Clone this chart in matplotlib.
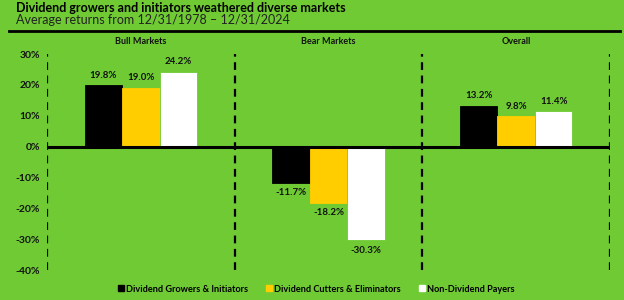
import matplotlib
matplotlib.use("Agg")
import matplotlib.pyplot as plt
from matplotlib.patches import Patch
import numpy as np

categories = ["Bull Markets", "Bear Markets", "Overall"]
series_names = ["Dividend Growers & Initiators", "Dividend Cutters & Eliminators", "Non-Dividend Payers"]
growers = [19.8, -11.7, 13.2]
cutters = [19.0, -18.2, 9.8]
non_payers = [24.2, -30.3, 11.4]
yticks = [30, 20, 10, 0, -10, -20, -30, -40]

BG = "#6fca33"
colors = ["#000000", "#ffcd00", "#ffffff"]
FONT = "Lato"

fig = plt.figure(figsize=(6.24, 3.0), dpi=100, facecolor=BG)
ax = fig.add_axes([47/624, 1-270/300, (610-47)/624, (270-54)/300])
ax.set_facecolor(BG)

x = np.arange(len(categories)) + 0.5
w = 0.2
for i, (vals, c) in enumerate(zip([growers, cutters, non_payers], colors)):
    xs = x + (i - 1) * w
    ax.bar(xs, vals, width=w, color=c, edgecolor=BG if c == "#ffffff" else c, linewidth=0.6, zorder=2)
    for xi, v in zip(xs, vals):
        if v >= 0:
            ax.text(xi, v + 1.8, f"{v:.1f}%", ha="center", va="bottom", fontsize=7,
                    fontfamily=FONT, fontweight="bold", color="#111111")
        else:
            ax.text(xi, v - 1.8, f"{v:.1f}%", ha="center", va="top", fontsize=7,
                    fontfamily=FONT, fontweight="bold", color="#111111")

ax.set_xlim(0, 3)
ax.set_ylim(-40, 30)
ax.axhline(0, color="black", lw=2.2, zorder=3)
for xv in [0, 1, 2, 3]:
    ax.axvline(xv, color="black", lw=1.6, ls=(0, (3.5, 2.5)), zorder=3)

for xi, cat in zip(x, categories):
    ax.text(xi, 1.035, cat, transform=ax.get_xaxis_transform(), ha="center", va="bottom",
            fontsize=6.5, fontfamily=FONT, fontweight="bold", color="#111111")

ax.set_yticks(yticks)
ax.set_yticklabels([f"{t}%" for t in yticks], fontsize=7.5, fontfamily=FONT, fontweight="bold", color="#111111")
ax.tick_params(axis="y", length=0, pad=5)
ax.set_xticks([])
for s in ax.spines.values():
    s.set_visible(False)

fig.text(16/624, 1-8/300, "Dividend growers and initiators weathered diverse markets",
         ha="left", va="center", fontsize=9, fontfamily=FONT, fontweight="bold", color="#000000")
fig.text(16/624, 1-20/300, "Average returns from 12/31/1978 \u2013 12/31/2024",
         ha="left", va="center", fontsize=9, fontfamily=FONT, color="#222222")
fig.add_artist(plt.Line2D([9/624, 620/624], [1-31/300, 1-31/300], color="black", lw=2))

handles = [Patch(facecolor=c, edgecolor=c) for c in colors]
leg = fig.legend(handles, series_names, loc="center", bbox_to_anchor=(0.507, 1-289/300), ncol=3,
                 frameon=False, handlelength=0.6, handleheight=0.6, handletextpad=0.25,
                 columnspacing=2.0, prop={"family": FONT, "weight": "bold", "size": 6.6})

fig.savefig("out.png", dpi=100, facecolor=BG)
